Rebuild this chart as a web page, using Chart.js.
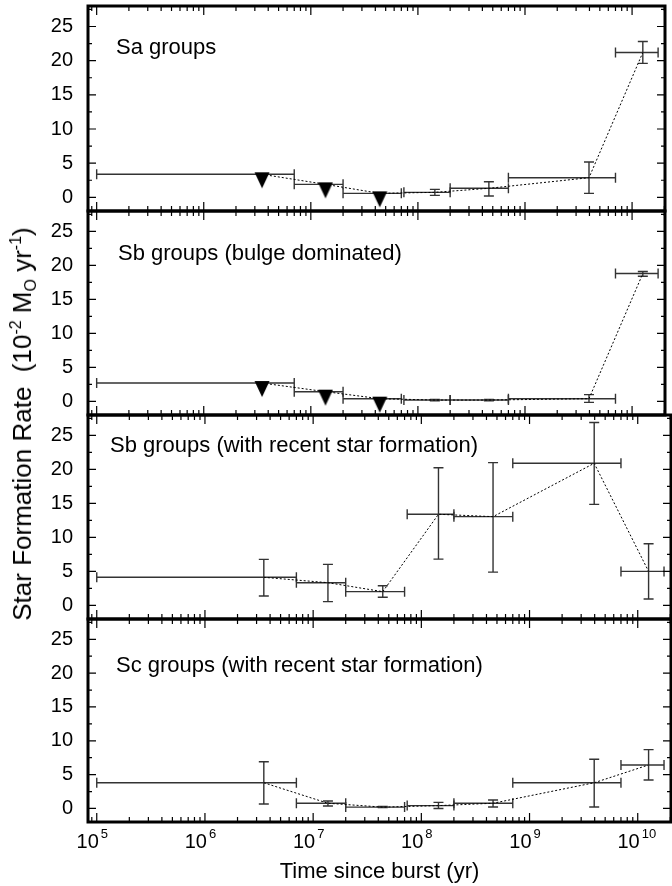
<!DOCTYPE html>
<html><head><meta charset="utf-8">
<script src="https://cdn.jsdelivr.net/npm/chart.js@4.4.1/dist/chart.umd.min.js"></script>
<style>
html,body{margin:0;padding:0;background:#fff;}
#wrap{position:relative;width:672px;height:886px;overflow:hidden;background:#fff;}
#wrap canvas{position:absolute;left:0;}
#ytitle{position:absolute;left:22px;top:424px;transform:translate(-50%,-50%) rotate(-90deg);
  white-space:nowrap;font-family:'Liberation Sans',Arial,sans-serif;font-size:26px;color:#000;line-height:1;}
#ytitle .sp{font-size:16px;position:relative;top:-10px;}
#ytitle .sb{font-size:16px;position:relative;top:5px;}
</style></head><body>
<div id="wrap">
<canvas id="c0"></canvas><canvas id="c1"></canvas><canvas id="c2"></canvas><canvas id="c3"></canvas>
<div id="ytitle">Star Formation Rate&nbsp;&nbsp;(10<span class="sp">-2</span> M<span class="sb">O</span> yr<span class="sp">-1</span>)</div>
</div>
<script>
// ---- data ----
const binCenter = [3.5e6, 1.37e7, 4.4e7, 1.44e8, 4.6e8, 3.96e9, 1.26e10];
const binLow    = [1e5, 7e6, 2e7, 7.4e7, 2e8, 7e8, 7e9];
const binHigh   = [7e6, 2e7, 7e7, 2e8, 7e8, 7e9, 1.75e10];

const panelLabels = ['Sa groups', 'Sb groups (bulge dominated)',
  'Sb groups (with recent star formation)', 'Sc groups (with recent star formation)'];

const saSFR   = [3.37, 1.9, 0.58, 0.73, 1.32, 2.87, 21.2];
const saLo    = [null, null, null, 0.29, 0.19, 0.58, 19.6];
const saHi    = [null, null, null, 1.17, 2.28, 5.17, 22.8];
const saUpper = [true, true, true, false, false, false, false];

const sbBulgeSFR   = [2.7, 1.43, 0.4, 0.2, 0.2, 0.4, 18.8];
const sbBulgeLo    = [null, null, null, 0.1, 0.1, -0.15, 18.4];
const sbBulgeHi    = [null, null, null, 0.3, 0.3, 1.0, 19.1];
const sbBulgeUpper = [true, true, true, false, false, false, false];

const sbRecentSFR   = [4.13, 3.34, 2.02, 13.4, 13.05, 20.9, 5.0];
const sbRecentLo    = [1.38, 0.55, 1.19, 6.8, 4.9, 14.85, 0.94];
const sbRecentHi    = [6.77, 6.04, 2.9, 20.25, 21.0, 26.9, 9.07];
const sbRecentUpper = [false, false, false, false, false, false, false];

const scRecentSFR   = [3.8, 0.77, 0.2, 0.42, 0.77, 3.8, 6.43];
const scRecentLo    = [0.66, 0.37, 0.12, 0.0, 0.22, 0.22, 4.2];
const scRecentHi    = [6.9, 1.1, 0.28, 0.9, 1.26, 7.27, 8.7];
const scRecentUpper = [false, false, false, false, false, false, false];

const yTickValues = [0, 5, 10, 15, 20, 25];
const yMinorValues = [2.5, 7.5, 12.5, 17.5, 22.5, 27.5, -2.5];
const xTickExponents = [5, 6, 7, 8, 9, 10];
const xMinorMultipliers = [2, 3, 4, 5, 6, 7, 8, 9];
const xMinorDecades = [1e4, 1e5, 1e6, 1e7, 1e8, 1e9, 1e10];
const xAxisTitle = 'Time since burst (yr)';

// ---- layout (styles) ----
const panelTop    = [6, 211, 415, 619];
const panelBottom = [211, 415, 619, 822];
const labelPos = [[116, 48], [118, 49], [110, 37], [116, 53]];
const PAD = 12;
const FONT = "'Liberation Sans', Arial, sans-serif";

const panels = [
  {v: saSFR, lo: saLo, hi: saHi, up: saUpper},
  {v: sbBulgeSFR, lo: sbBulgeLo, hi: sbBulgeHi, up: sbBulgeUpper},
  {v: sbRecentSFR, lo: sbRecentLo, hi: sbRecentHi, up: sbRecentUpper},
  {v: scRecentSFR, lo: scRecentLo, hi: scRecentHi, up: scRecentUpper}
];

// downward triangle marker (upper limit)
const tri = document.createElement('canvas');
tri.width = 16; tri.height = 32;
(function(){ const t = tri.getContext('2d'); t.fillStyle = '#000'; t.beginPath();
  t.moveTo(0.5, 14); t.lineTo(15.5, 14); t.lineTo(8, 30); t.closePath(); t.fill(); })();

function makePlugin(idx) {
  const p = panels[idx];
  return {
    id: 'panelDecor' + idx,
    beforeDatasetsDraw(chart) {
      const {ctx, scales: {x, y}} = chart;
      ctx.save();
      ctx.strokeStyle = '#333'; ctx.lineWidth = 1.4;
      const cap = 5;
      for (let i = 0; i < binCenter.length; i++) {
        const py = y.getPixelForValue(p.v[i]);
        const x0 = x.getPixelForValue(binLow[i]), x1 = x.getPixelForValue(binHigh[i]);
        ctx.beginPath();
        ctx.moveTo(x0, py); ctx.lineTo(x1, py);
        ctx.moveTo(x0, py - cap); ctx.lineTo(x0, py + cap);
        ctx.moveTo(x1, py - cap); ctx.lineTo(x1, py + cap);
        if (p.lo[i] !== null) {
          const px = x.getPixelForValue(binCenter[i]);
          const y0 = y.getPixelForValue(p.lo[i]), y1 = y.getPixelForValue(p.hi[i]);
          ctx.moveTo(px, y0); ctx.lineTo(px, y1);
          ctx.moveTo(px - cap, y0); ctx.lineTo(px + cap, y0);
          ctx.moveTo(px - cap, y1); ctx.lineTo(px + cap, y1);
        }
        ctx.stroke();
      }
      ctx.restore();
    },
    afterDraw(chart) {
      const {ctx, chartArea: a, scales: {x, y}} = chart;
      ctx.save();
      ctx.strokeStyle = '#000'; ctx.lineWidth = 1.2;
      ctx.beginPath();
      xTickExponents.forEach(k => {
        const px = x.getPixelForValue(Math.pow(10, k));
        ctx.moveTo(px, a.top); ctx.lineTo(px, a.top + 9);
        ctx.moveTo(px, a.bottom); ctx.lineTo(px, a.bottom - 9);
      });
      xMinorDecades.forEach(d => xMinorMultipliers.forEach(m => {
        const v = d * m;
        if (v <= x.min || v >= x.max) return;
        const px = x.getPixelForValue(v);
        ctx.moveTo(px, a.top); ctx.lineTo(px, a.top + 5);
        ctx.moveTo(px, a.bottom); ctx.lineTo(px, a.bottom - 5);
      }));
      yTickValues.forEach(v => {
        const py = y.getPixelForValue(v);
        ctx.moveTo(a.left, py); ctx.lineTo(a.left + 8, py);
        ctx.moveTo(a.right, py); ctx.lineTo(a.right - 8, py);
      });
      yMinorValues.forEach(v => {
        if (v <= y.min || v >= y.max) return;
        const py = y.getPixelForValue(v);
        ctx.moveTo(a.left, py); ctx.lineTo(a.left + 4, py);
        ctx.moveTo(a.right, py); ctx.lineTo(a.right - 4, py);
      });
      ctx.stroke();
      ctx.lineWidth = 3;
      ctx.strokeRect(a.left, a.top, a.right - a.left, a.bottom - a.top);
      ctx.fillStyle = '#000';
      ctx.font = '22px ' + FONT;
      ctx.textAlign = 'left'; ctx.textBaseline = 'alphabetic';
      ctx.fillText(panelLabels[idx], labelPos[idx][0], a.top + labelPos[idx][1]);
      if (idx === 3) {
        xTickExponents.forEach(k => {
          const px = x.getPixelForValue(Math.pow(10, k));
          ctx.font = '20px ' + FONT; ctx.textAlign = 'right';
          ctx.fillText('10', px + 2, a.bottom + 26);
          ctx.font = '13px ' + FONT; ctx.textAlign = 'left';
          ctx.fillText(String(k), px + 4, a.bottom + 16);
        });
        ctx.font = '22px ' + FONT; ctx.textAlign = 'center';
        ctx.fillText(xAxisTitle, (a.left + a.right) / 2, a.bottom + 56);
      }
      ctx.restore();
    }
  };
}

for (let idx = 0; idx < 4; idx++) {
  const cv = document.getElementById('c' + idx);
  const top = panelTop[idx] - PAD;
  const padBottom = idx === 3 ? 886 - panelBottom[idx] : PAD;
  const h = (panelBottom[idx] - panelTop[idx]) + PAD + padBottom;
  cv.width = 672; cv.height = h; cv.style.top = top + 'px';
  cv.style.width = '672px'; cv.style.height = h + 'px';
  const p = panels[idx];
  new Chart(cv, {
    type: 'scatter',
    data: {
      datasets: [{
        data: binCenter.map((xv, i) => ({x: xv, y: p.v[i]})),
        showLine: true,
        borderColor: '#000',
        borderWidth: 1,
        borderDash: [2, 2],
        tension: 0,
        pointStyle: tri,
        pointRadius: c => p.up[c.dataIndex] ? 6 : 0,
        pointHoverRadius: 0,
        clip: false
      }]
    },
    options: {
      responsive: false,
      animation: false,
      devicePixelRatio: 1,
      layout: {padding: {top: PAD, bottom: padBottom, left: 0, right: 1}},
      plugins: {legend: {display: false}, tooltip: {enabled: false}},
      events: [],
      scales: {
        x: {type: 'logarithmic', min: 8.3e4, max: 2.03e10, display: false},
        y: {
          type: 'linear', min: -2, max: 28,
          afterBuildTicks: s => { s.ticks = yTickValues.map(v => ({value: v})); },
          afterFit: s => { s.width = 88; s.paddingTop = 0; s.paddingBottom = 0; s.paddingLeft = 0; s.paddingRight = 0; },
          grid: {display: false, drawTicks: false},
          border: {display: false},
          ticks: {color: '#000', padding: 15, font: {family: FONT, size: 20}}
        }
      }
    },
    plugins: [makePlugin(idx)]
  });
}
</script>
</body></html>
